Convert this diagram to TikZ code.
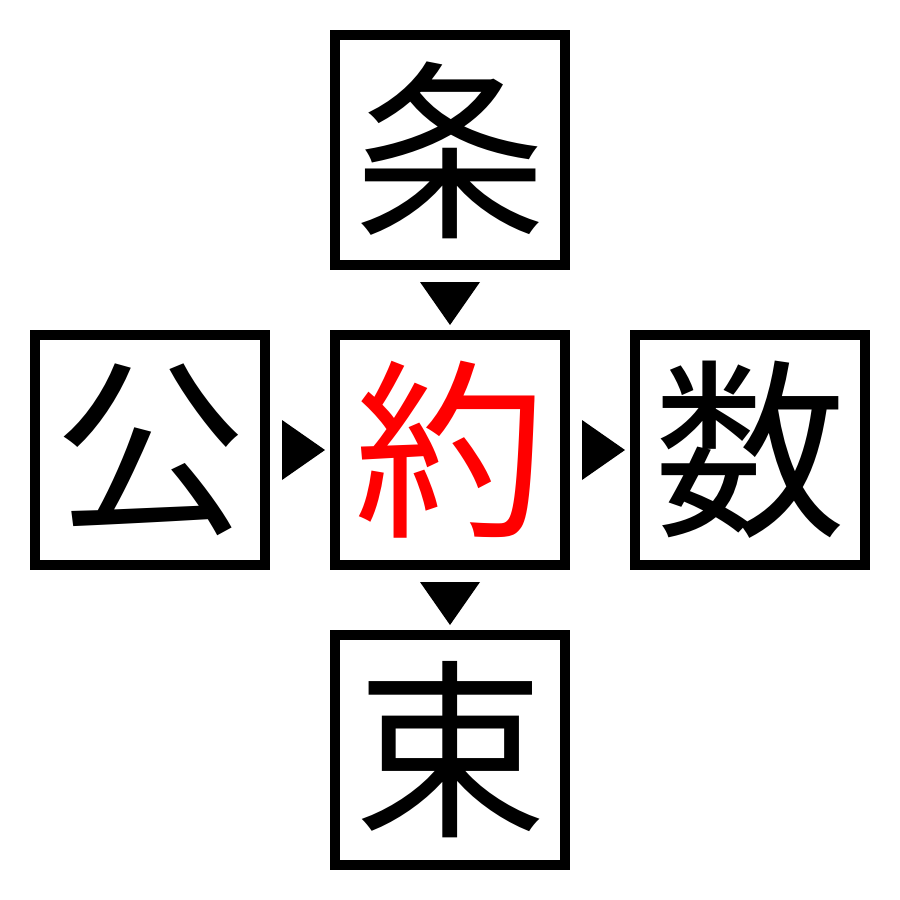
\documentclass[tikz,border=0pt]{standalone}
\usepackage{fontspec}
\newfontfamily\cjk{Noto Sans CJK JP}
\begin{document}
\begin{tikzpicture}[x=1pt,y=-1pt,
  kbox/.style={draw=black,line width=10pt,minimum size=230pt,inner sep=0pt,font=\cjk\fontsize{192}{192}\selectfont},
  tri/.style={fill=black,draw=none}]
\useasboundingbox (0,0) rectangle (900,900);
\node[kbox] (top) at (450,150) {条};
\node[kbox] (left) at (150,450) {公};
\node[kbox,text=red] (mid) at (450,450) {約};
\node[kbox] (right) at (750,450) {数};
\node[kbox] (bot) at (450,750) {束};
\fill[tri] (420,282) -- (480,282) -- (450,325) -- cycle;
\fill[tri] (420,582) -- (480,582) -- (450,625) -- cycle;
\fill[tri] (282,420) -- (282,480) -- (325,450) -- cycle;
\fill[tri] (582,420) -- (582,480) -- (625,450) -- cycle;
\end{tikzpicture}
\end{document}
